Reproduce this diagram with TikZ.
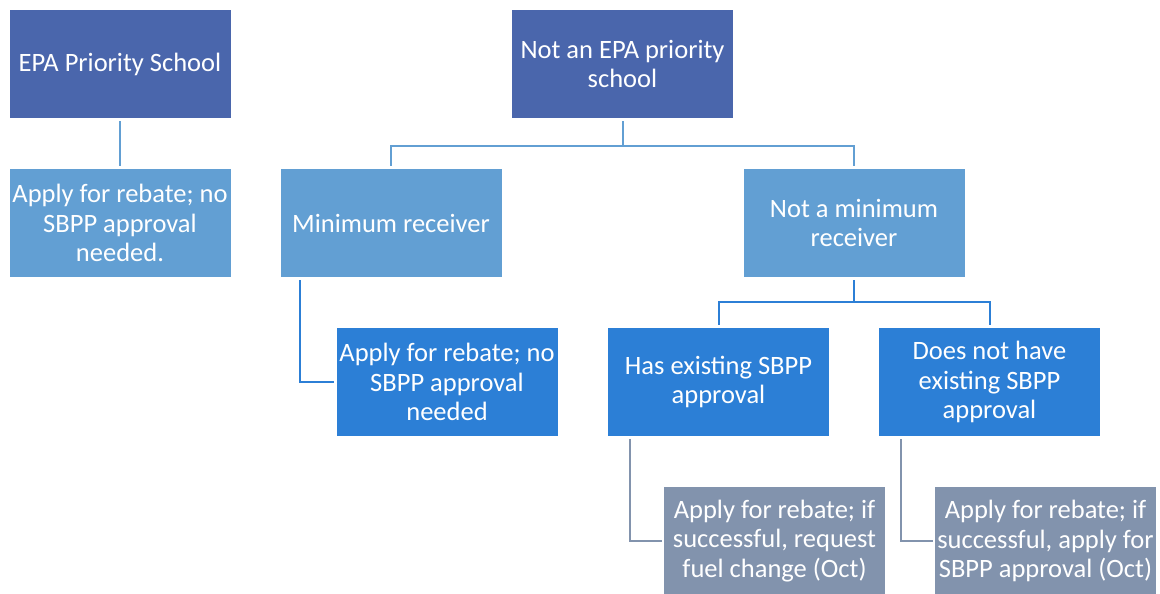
\documentclass[tikz,border=0pt]{standalone}
\usepackage{fontspec}
\setmainfont{Carlito}
\usetikzlibrary{calc}
\definecolor{navy}{HTML}{4A66AC}
\definecolor{sky}{HTML}{629FD3}
\definecolor{azure}{HTML}{2C7FD6}
\definecolor{slate}{HTML}{8293AD}
\tikzset{
	box/.style={minimum width=221pt, minimum height=108pt, align=center, inner sep=0pt, text=white, font=\fontsize{26.5}{29.5}\selectfont},
	link/.style={line width=2pt}
}

\begin{document}
\begin{tikzpicture}[x=1pt, y=-1pt]
		%%%%% START %%%%%
		\useasboundingbox (0, 0) rectangle (1160, 594);
		
		\node[box, fill=navy] (epa) at (120, 64) {EPA Priority School};
		\node[box, fill=navy] (notepa) at (622.5, 64) {Not an EPA priority\\school};
		
		\node[box, fill=sky] (rebateA) at (120, 223) {Apply for rebate; no\\SBPP approval\\needed.};
		\node[box, fill=sky] (minrec) at (391, 223) {Minimum receiver};
		\node[box, fill=sky] (notmin) at (854, 223) {Not a minimum\\receiver};
		
		\node[box, fill=azure] (rebateB) at (447, 382) {Apply for rebate; no\\SBPP approval\\needed};
		\node[box, fill=azure] (hasapp) at (718.5, 382) {Has existing SBPP\\approval};
		\node[box, fill=azure] (noapp) at (989.5, 382) {Does not have\\existing SBPP\\approval};
		
		\node[box, fill=slate] (fuel) at (774.5, 541) {Apply for rebate; if\\successful, request\\fuel change (Oct)};
		\node[box, fill=slate] (sbpp) at (1045.5, 541) {Apply for rebate; if\\successful, apply for\\SBPP approval (Oct)};
		
		% level one
		\draw[link, color=sky] ([yshift=-3pt]epa.south) -- ([yshift=3pt]rebateA.north);
		\draw[link, color=sky] ([yshift=-3pt]notepa.south) -- ([yshift=-3pt]notepa.south |- 0, 143)
			coordinate (fork);
		\draw[link, color=sky] ([yshift=3pt]minrec.north) |- (fork) -| ([yshift=3pt]notmin.north);
		
		% level two
		\draw[link, color=azure] ([xshift=20pt, yshift=-3pt]minrec.south west) |- ([xshift=-2pt]rebateB.west);
		\draw[link, color=azure] ([yshift=-3pt]notmin.south) -- (notmin.south |- 0, 302) coordinate (split);
		\draw[link, color=azure] ([yshift=3pt]hasapp.north) |- (split) -| ([yshift=3pt]noapp.north);
		
		% level three
		\draw[link, color=slate] ([xshift=22pt, yshift=-3pt]hasapp.south west) |- ([xshift=-2pt]fuel.west);
		\draw[link, color=slate] ([xshift=22pt, yshift=-3pt]noapp.south west) |- ([xshift=-2pt]sbpp.west);
		%%%%% END %%%%%
	\end{tikzpicture}
\end{document}
